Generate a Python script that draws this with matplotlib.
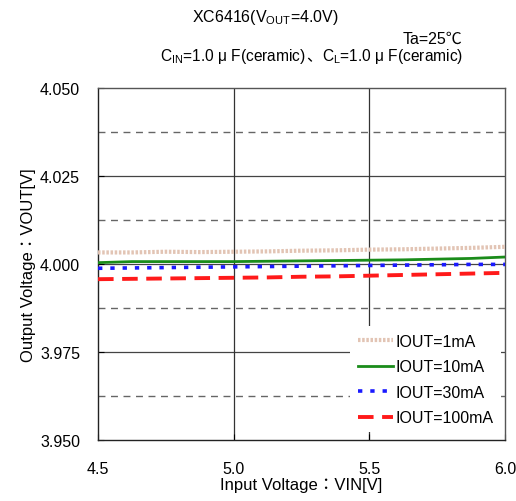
import matplotlib
matplotlib.use("Agg")
import matplotlib.pyplot as plt

FONT = ['Liberation Sans', 'Noto Sans CJK JP', 'DejaVu Sans']
plt.rcParams['font.family'] = FONT
plt.rcParams['mathtext.fontset'] = 'custom'
plt.rcParams['mathtext.rm'] = 'Liberation Sans'
plt.rcParams['mathtext.it'] = 'Liberation Sans'
plt.rcParams['mathtext.bf'] = 'Liberation Sans'

vin = [4.5, 4.625, 4.75, 4.875, 5.0, 5.125, 5.25, 5.375, 5.5, 5.625, 5.75, 5.875, 6.0]
iout_1mA = [4.0033, 4.0033, 4.0035, 4.0034, 4.0035, 4.0036, 4.0038, 4.0039, 4.0041, 4.0042, 4.0044, 4.0046, 4.0049]
iout_10mA = [4.0004, 4.0007, 4.0007, 4.0007, 4.0007, 4.0008, 4.0009, 4.0010, 4.0011, 4.0012, 4.0014, 4.0016, 4.0020]
iout_30mA = [3.9988, 3.9989, 3.9990, 3.9991, 3.9992, 3.9993, 3.9994, 3.9995, 3.9996, 3.9997, 3.9998, 3.9999, 3.9999]
iout_100mA = [3.9957, 3.9958, 3.9959, 3.9960, 3.9961, 3.9962, 3.9964, 3.9965, 3.9967, 3.9969, 3.9971, 3.9973, 3.9975]

labels = ['IOUT=1mA', 'IOUT=10mA', 'IOUT=30mA', 'IOUT=100mA']
xticks = [4.5, 5.0, 5.5, 6.0]
xticklabels = ['4.5', '5.0', '5.5', '6.0']
yticks = [3.950, 3.975, 4.000, 4.025, 4.050]
yticklabels = ['3.950', '3.975', '4.000', '4.025', '4.050']
solid_h = [3.975, 4.000, 4.025]
dashed_h = [3.9625, 3.9875, 4.0125, 4.0375]
solid_v = [5.0, 5.5]

FS = 11.5

fig = plt.figure(figsize=(5.16, 5.02), dpi=100)
ax = fig.add_axes([0.190, 0.1215, 0.789, 0.701])
ax.set_xlim(4.5, 6.0)
ax.set_ylim(3.950, 4.050)

for y in solid_h:
    ax.axhline(y, color='#444444', lw=0.9, zorder=1)
for y in dashed_h:
    ax.axhline(y, color='#666666', lw=1.0, ls=(0, (5, 4)), zorder=1)
for x in solid_v:
    ax.axvline(x, color='#333333', lw=0.9, zorder=1)

ax.plot(vin, iout_1mA, color='#e2c4b4', lw=3.0, ls=(0, (0.6, 0.4)), label=labels[0], zorder=3)
ax.plot(vin, iout_10mA, color='#1a8c1a', lw=2.0, ls='-', label=labels[1], zorder=3)
ax.plot(vin, iout_30mA, color='#1a1aff', lw=2.6, ls=(0, (1.2, 2.2)), label=labels[2], zorder=3)
ax.plot(vin, iout_100mA, color='#ff1a1a', lw=2.8, ls=(0, (4, 2.2)), label=labels[3], zorder=3)

ax.set_xticks(xticks)
ax.set_xticklabels(xticklabels)
ax.set_yticks(yticks)
ax.set_yticklabels(yticklabels)
ax.tick_params(direction='in', length=4, labelsize=FS, colors='black')
ax.tick_params(axis='y', pad=13)
ax.tick_params(axis='x', pad=15)
for s in ax.spines.values():
    s.set_color('#555555')
    s.set_linewidth(1.0)
ax.spines['left'].set_color('#222222')
ax.spines['bottom'].set_color('#222222')

ax.set_xlabel('Input Voltage\uff1aVIN[V]', fontsize=12, labelpad=1)
ax.set_ylabel('Output Voltage\uff1aVOUT[V]', fontsize=12, labelpad=3)

leg = ax.legend(loc='lower right', bbox_to_anchor=(0.990, 0.0215), frameon=True, fontsize=FS,
                handlelength=2.2, handletextpad=0.2, labelspacing=0.66, borderpad=0.45,
                borderaxespad=0.0)
leg.get_frame().set_edgecolor('none')
leg.get_frame().set_facecolor('white')
leg.get_frame().set_alpha(1.0)
leg.set_zorder(5)

fig.text(0.514, 0.966, r'XC6416(V$_{\mathrm{OUT}}$=4.0V)', ha='center', va='center', fontsize=FS)
fig.text(0.897, 0.921, 'Ta=25\u2103', ha='right', va='center', fontsize=FS)

# third header line built from pieces, right-aligned
renderer = fig.canvas.get_renderer()
pieces = [r'C$_{\mathrm{IN}}$=1.0 ' + '\u03bc' + ' F(ceramic)', '\u3001',
          r'C$_{\mathrm{L}}$=1.0 ' + '\u03bc' + ' F(ceramic)']
xr = 0.897 * fig.bbox.width
for p in reversed(pieces):
    t = fig.text(xr / fig.bbox.width, 0.878, p, ha='right', va='baseline', fontsize=11.2)
    w = t.get_window_extent(renderer).width
    xr -= w

fig.savefig('out.png', dpi=100)
